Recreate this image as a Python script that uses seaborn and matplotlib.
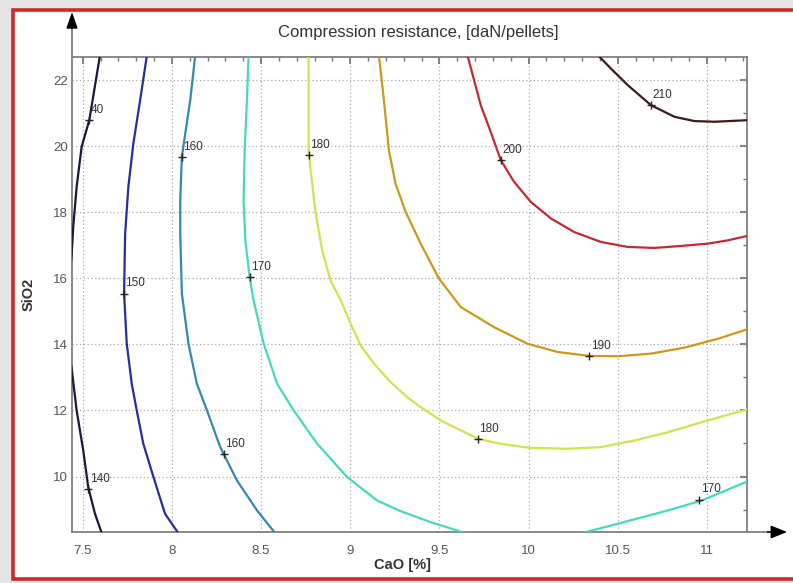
import matplotlib
matplotlib.use("Agg")
import matplotlib.pyplot as plt
import numpy as np
import pandas as pd
import seaborn as sns
from matplotlib.ticker import MultipleLocator
from matplotlib.patches import Rectangle

# ---- contour lines (CaO, SiO2) ----
c140a_x = [7.597, 7.537, 7.494, 7.466, 7.447, 7.436]
c140a_y = [22.75, 20.79, 19.98, 18.77, 17.56, 16.55]
c140b_x = [7.436, 7.466, 7.503, 7.531, 7.569, 7.607]
c140b_y = [13.36, 12.00, 10.79, 9.68, 8.87, 8.28]

c150_x = [7.860, 7.822, 7.784, 7.756, 7.738, 7.732, 7.747, 7.775, 7.803, 7.840, 7.897, 7.962, 8.037]
c150_y = [22.75, 21.39, 20.08, 18.77, 17.35, 15.54, 14.02, 12.81, 12.00, 10.99, 9.98, 8.87, 8.28]

c160_x = [8.131, 8.103, 8.075, 8.056, 8.047, 8.047, 8.056, 8.093, 8.140, 8.197, 8.271, 8.365, 8.478, 8.580]
c160_y = [22.75, 21.39, 20.38, 19.68, 18.36, 17.35, 15.54, 14.02, 12.81, 12.00, 10.89, 9.88, 8.97, 8.28]

c170a_x = [8.430, 8.421, 8.408, 8.402, 8.412, 8.436, 8.458, 8.515, 8.590, 8.683, 8.815, 8.983, 9.152, 9.283, 9.450, 9.650]
c170a_y = [22.75, 21.39, 19.88, 18.36, 17.15, 16.04, 15.33, 14.02, 12.81, 12.00, 10.99, 9.98, 9.27, 8.95, 8.62, 8.28]
c170b_x = [10.295, 10.500, 10.780, 10.970, 11.240]
c170b_y = [8.28, 8.57, 8.97, 9.27, 9.88]

c180_x = [8.767, 8.767, 8.767, 8.787, 8.805, 8.843, 8.889, 8.950, 9.002, 9.058, 9.133, 9.226,
          9.320, 9.395, 9.507, 9.717, 9.844, 10.003, 10.219, 10.406, 10.593, 10.781, 11.006, 11.240]
c180_y = [22.75, 21.39, 19.78, 18.87, 18.01, 16.85, 15.94, 15.30, 14.63, 13.97, 13.42, 12.86,
          12.40, 12.10, 11.70, 11.14, 10.99, 10.87, 10.84, 10.89, 11.09, 11.34, 11.70, 12.05]

c190_x = [9.161, 9.189, 9.217, 9.254, 9.311, 9.395, 9.498, 9.620, 9.807, 9.994, 10.163, 10.340,
          10.500, 10.687, 10.874, 11.062, 11.240]
c190_y = [22.75, 21.39, 19.88, 18.87, 18.01, 17.05, 15.99, 15.13, 14.52, 14.02, 13.77, 13.65,
          13.64, 13.72, 13.90, 14.17, 14.48]

c200_x = [9.657, 9.732, 9.788, 9.844, 9.919, 10.013, 10.126, 10.256, 10.406, 10.556, 10.706,
          10.856, 11.006, 11.118, 11.240]
c200_y = [22.76, 21.24, 20.43, 19.58, 18.92, 18.31, 17.81, 17.40, 17.10, 16.95, 16.92,
          16.98, 17.05, 17.15, 17.30]

c210_x = [10.388, 10.462, 10.556, 10.687, 10.818, 10.930, 11.043, 11.240]
c210_y = [22.76, 22.35, 21.85, 21.24, 20.89, 20.76, 20.74, 20.79]

# contour level of each segment
seg_names = ["140a", "140b", "150", "160", "170a", "170b", "180", "190", "200", "210"]
seg_levels = [140, 140, 150, 160, 170, 170, 180, 190, 200, 210]
seg_xs = [c140a_x, c140b_x, c150_x, c160_x, c170a_x, c170b_x, c180_x, c190_x, c200_x, c210_x]
seg_ys = [c140a_y, c140b_y, c150_y, c160_y, c170a_y, c170b_y, c180_y, c190_y, c200_y, c210_y]

# inline labels: text, marker position
lab_text = ["40", "150", "160", "170", "180", "200", "210", "190", "180", "170", "160", "140"]
lab_x = [7.537, 7.732, 8.056, 8.436, 8.767, 9.844, 10.687, 10.340, 9.717, 10.958, 8.290, 7.531]
lab_y = [20.79, 15.54, 19.68, 16.04, 19.73, 19.58, 21.24, 13.65, 11.14, 9.30, 10.67, 9.63]

x_ticks = [7.5, 8, 8.5, 9, 9.5, 10, 10.5, 11]
x_tick_labels = ["7.5", "8", "8.5", "9", "9.5", "10", "10.5", "11"]
y_ticks = [10, 12, 14, 16, 18, 20, 22]
y_tick_labels = ["10", "12", "14", "16", "18", "20", "22"]

level_colors = {140: "#161a3c", 150: "#2a2c9c", 160: "#3389b0", 170: "#48d8bc",
                180: "#cde552", 190: "#cc981e", 200: "#c22a34", 210: "#3a1a1a"}

rows = []
for name, lev, xs, ys in zip(seg_names, seg_levels, seg_xs, seg_ys):
    for i, (a, b) in enumerate(zip(xs, ys)):
        rows.append({"seg": name, "level": lev, "order": i, "CaO": a, "SiO2": b})
df = pd.DataFrame(rows)
palette = {n: level_colors[l] for n, l in zip(seg_names, seg_levels)}

sns.set_theme(style="white")
plt.rcParams["font.family"] = ["Liberation Sans", "DejaVu Sans"]

W, H = 793, 583
fig = plt.figure(figsize=(W / 100, H / 100), dpi=100)
fig.patch.set_facecolor("#e4e4e4")
frame = Rectangle((13 / W, 4 / H), 1.2, (579 - 10) / H, transform=fig.transFigure,
                  facecolor="white", edgecolor="#cc2a2a", linewidth=2.6, zorder=-10)
fig.patches.append(frame)

ax = fig.add_axes([72 / W, 51 / H, 675 / W, 475 / H])
ax.set_zorder(1)
ax.set_facecolor("white")

sns.lineplot(data=df, x="CaO", y="SiO2", hue="seg", palette=palette, estimator=None,
             sort=False, legend=False, linewidth=1.6, ax=ax, zorder=3)

for t, xx, yy in zip(lab_text, lab_x, lab_y):
    ax.plot(xx, yy, marker="+", color="#222222", markersize=6, markeredgewidth=1.0, zorder=4)
    ax.annotate(t, (xx, yy), xytext=(1, 3), textcoords="offset points", fontsize=8.5,
                color="#333333", ha="left", va="bottom", zorder=5)

ax.set_xlim(7.44, 11.225)
ax.set_ylim(8.32, 22.7)
ax.set_xticks(x_ticks)
ax.set_xticklabels(x_tick_labels)
ax.set_yticks(y_ticks)
ax.set_yticklabels(y_tick_labels)
ax.xaxis.set_minor_locator(MultipleLocator(0.1))
ax.yaxis.set_minor_locator(MultipleLocator(1))
ax.tick_params(which="both", direction="in", top=True, right=True, color="#777777",
               labelcolor="#555555", labelsize=9.5)
ax.tick_params(axis="x", which="major", length=5, pad=9)
ax.tick_params(axis="y", which="major", length=5, pad=3)
ax.tick_params(which="minor", length=3)
ax.grid(True, which="major", linestyle=(0, (1, 2)), color="#aaaaaa", linewidth=0.9)
for s in ax.spines.values():
    s.set_color("#808080")
    s.set_linewidth(1.3)

ax.set_xlabel("CaO [%]", fontweight="bold", fontsize=10.5, color="#333333")
ax.xaxis.label.set_va("center")
ax.xaxis.set_label_coords(0.49, -0.069)
ax.set_ylabel("SiO2", fontweight="bold", fontsize=10.5, color="#333333")
ax.yaxis.label.set_va("center")
ax.yaxis.set_label_coords(-0.065, 0.501)

fig.text(418 / W, 1 - 33 / H, "Compression resistance, [daN/pellets]", ha="center", va="center",
         fontsize=12, color="#333333")

# axis arrows
ax.plot([0, 0], [1, 1.07], transform=ax.transAxes, color="#808080", lw=1.3, clip_on=False)
ax.annotate("", xy=(0, 1.0947), xycoords="axes fraction", xytext=(0, 1.06),
            arrowprops=dict(arrowstyle="-|>,head_length=1.0,head_width=0.35", color="black",
                            lw=1.0, mutation_scale=10, shrinkA=0, shrinkB=0))
ax.plot([1, 1.04], [0, 0], transform=ax.transAxes, color="#808080", lw=1.3, clip_on=False)
ax.annotate("", xy=(1.0593, 0), xycoords="axes fraction", xytext=(1.03, 0),
            arrowprops=dict(arrowstyle="-|>,head_length=1.0,head_width=0.4", color="black",
                            lw=1.0, mutation_scale=10, shrinkA=0, shrinkB=0))

fig.savefig("out.png", dpi=100, facecolor=fig.get_facecolor())
